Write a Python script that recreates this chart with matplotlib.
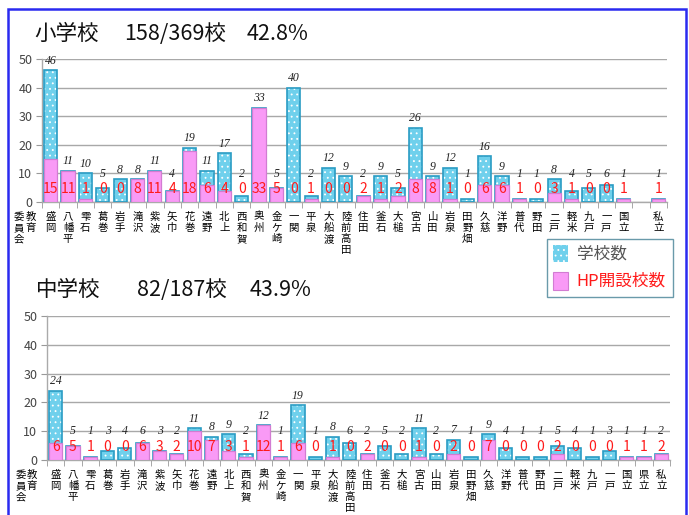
import matplotlib
matplotlib.use('Agg')
import matplotlib.pyplot as plt
from matplotlib.patches import Rectangle

plt.rcParams['font.family'] = ['Noto Sans CJK JP', 'DejaVu Sans']
plt.rcParams['hatch.linewidth'] = 0.6

categories_elem = ['盛岡', '八幡平', '雫石', '葛巻', '岩手', '滝沢', '紫波', '矢巾', '花巻', '遠野',
                   '北上', '西和賀', '奥州', '金ケ崎', '一関', '平泉', '大船渡', '陸前高田', '住田', '釜石',
                   '大槌', '宮古', '山田', '岩泉', '田野畑', '久慈', '洋野', '普代', '野田', '二戸',
                   '軽米', '九戸', '一戸', '国立', '', '私立']
elem_total = [46, 11, 10, 5, 8, 8, 11, 4, 19, 11,
              17, 2, 33, 5, 40, 2, 12, 9, 2, 9,
              5, 26, 9, 12, 1, 16, 9, 1, 1, 8,
              4, 5, 6, 1, None, 1]
elem_hp = [15, 11, 1, 0, 0, 8, 11, 4, 18, 6,
           4, 0, 33, 5, 0, 1, 0, 0, 2, 1,
           2, 8, 8, 1, 0, 6, 6, 1, 0, 3,
           1, 0, 0, 1, None, 1]

categories_jr = ['盛岡', '八幡平', '雫石', '葛巻', '岩手', '滝沢', '紫波', '矢巾', '花巻', '遠野',
                 '北上', '西和賀', '奥州', '金ケ崎', '一関', '平泉', '大船渡', '陸前高田', '住田', '釜石',
                 '大槌', '宮古', '山田', '岩泉', '田野畑', '久慈', '洋野', '普代', '野田', '二戸',
                 '軽米', '九戸', '一戸', '国立', '県立', '私立']
jr_total = [24, 5, 1, 3, 4, 6, 3, 2, 11, 8,
            9, 2, 12, 1, 19, 1, 8, 6, 2, 5,
            2, 11, 2, 7, 1, 9, 4, 1, 1, 5,
            4, 1, 3, 1, 1, 2]
jr_hp = [6, 5, 1, 0, 0, 6, 3, 2, 10, 7,
         3, 1, 12, 1, 6, 0, 1, 0, 2, 0,
         0, 1, 0, 2, 0, 7, 0, 0, 0, 2,
         0, 0, 0, 1, 1, 2]

title_elem = ['小学校', '158/369校', '42.8%']
title_jr = ['中学校', '82/187校', '43.9%']
row_label = '教育委員会'
legend_labels = ['学校数', 'HP開設校数']

W, H = 689, 515
fig = plt.figure(figsize=(W / 100, H / 100), dpi=100)

CYAN = '#6fd0ec'
CYAN_EDGE = '#2a9cc4'
PINK = '#f99af6'
PINK_EDGE = '#d27cd2'
RED = '#ff1a1a'

LBL_FS = 7.5
LBL_LS = 1.15


def fx(px):
    return px / W


def fy(py):
    return 1 - py / H


def draw(ax, cats, totals, hps):
    n = len(cats)
    idx = [i for i, t in enumerate(totals) if t is not None]
    tv = [totals[i] for i in idx]
    ax.bar(idx, tv, width=0.76, color=CYAN, edgecolor='white', hatch='...',
           linewidth=0, zorder=2)
    ax.bar(idx, tv, width=0.76, fill=False, edgecolor=CYAN_EDGE,
           linewidth=1.2, zorder=3)
    pidx = [i for i in idx if hps[i] > 0]
    pv = [hps[i] for i in pidx]
    ax.bar(pidx, pv, width=0.76, color=PINK, edgecolor=PINK_EDGE,
           linewidth=0.9, zorder=4)
    for i in idx:
        ax.text(i, max(totals[i] + 3.3, 9.9), str(totals[i]), ha='center',
                va='center', fontsize=8.5, fontstyle='italic',
                family='Liberation Serif', color='#222222', zorder=6,
                clip_on=False)
        ax.text(i, 4.5, str(hps[i]), ha='center', va='center', fontsize=10,
                color=RED, zorder=6)
    ax.set_xlim(-0.5, n - 0.5)
    ax.set_ylim(0, 50)
    ax.set_yticks(range(0, 51, 10))
    ax.set_xticks(range(n))
    ax.set_xticklabels(['\n'.join(c) for c in cats], fontsize=LBL_FS,
                       linespacing=LBL_LS, va='top')
    ax.set_xticks([i + 0.5 for i in range(-1, n)], minor=True)
    ax.tick_params(axis='x', which='major', length=0, pad=7)
    ax.tick_params(axis='x', which='minor', length=4, color='#999999')
    ax.tick_params(axis='y', length=4, color='#999999', labelsize=9,
                   labelcolor='#444444', pad=3)
    ax.yaxis.grid(True, color='#a8a8a8', linewidth=1.0, zorder=0)
    ax.set_axisbelow(True)
    for s in ['top', 'right']:
        ax.spines[s].set_visible(False)
    for s in ['left', 'bottom']:
        ax.spines[s].set_color('#aaaaaa')
        ax.spines[s].set_linewidth(1.0)


ax1 = fig.add_axes([fx(42), fy(202), fx(667) - fx(42), (202 - 59) / H])
draw(ax1, categories_elem, elem_total, elem_hp)

ax2 = fig.add_axes([fx(47), fy(460), fx(670) - fx(47), (460 - 316) / H])
draw(ax2, categories_jr, jr_total, jr_hp)

# titles
for (t, y, xs) in [(title_elem, 34, [34, 124, 247]), (title_jr, 290, [36, 137, 250])]:
    for txt, x in zip(t, xs):
        fig.text(fx(x), fy(y), txt, fontsize=15.5, ha='left', va='center',
                 color='#111111')

# row label "教育委員会" (vertical, two columns, read right to left)
for y0, xa, xb in [(212, 31, 19), (470, 32, 21)]:
    fig.text(fx(xa), fy(y0), '\n'.join(row_label[:2]), fontsize=LBL_FS,
             ha='center', va='top', linespacing=LBL_LS)
    fig.text(fx(xb), fy(y0), '\n'.join(row_label[2:]), fontsize=LBL_FS,
             ha='center', va='top', linespacing=LBL_LS)

# legend
fig.patches.append(Rectangle((fx(547), fy(297)), fx(673) - fx(547), (297 - 239) / H,
                             transform=fig.transFigure, facecolor='white',
                             edgecolor='#6a9aaa', linewidth=1.0, zorder=5))
fig.patches.append(Rectangle((fx(553), fy(262)), fx(568) - fx(553), 17 / H,
                             transform=fig.transFigure, facecolor=CYAN,
                             edgecolor='white', hatch='...', linewidth=0, zorder=6))
fig.patches.append(Rectangle((fx(553), fy(290)), fx(568) - fx(553), 18 / H,
                             transform=fig.transFigure, facecolor=PINK,
                             edgecolor=PINK_EDGE, linewidth=0.8, zorder=6))
fig.text(fx(577), fy(254), legend_labels[0], fontsize=12, color='#555555',
         ha='left', va='center', fontstyle='italic', zorder=7)
fig.text(fx(576), fy(281), legend_labels[1], fontsize=12, color=RED,
         ha='left', va='center', zorder=7)

# blue frame
fig.patches.append(Rectangle((fx(8), fy(560)), fx(686) - fx(8), (560 - 9) / H,
                             transform=fig.transFigure, fill=False,
                             edgecolor='#2a2af0', linewidth=1.8, zorder=10,
                             clip_on=False))

fig.savefig('out.png', dpi=100)
